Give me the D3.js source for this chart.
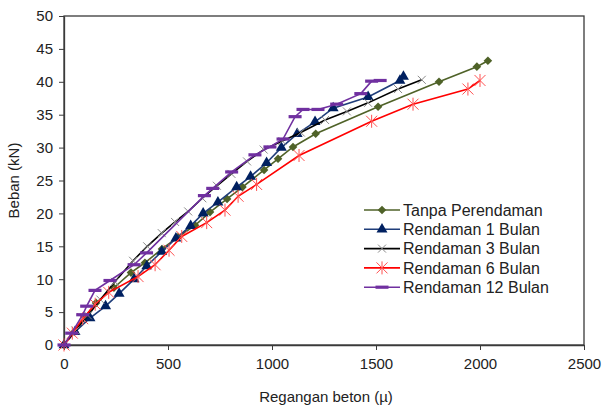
<!DOCTYPE html>
<html>
<head>
<meta charset="utf-8">
<script src="https://cdn.jsdelivr.net/npm/d3@7"></script>
<style>
  body { margin: 0; background: #fff; }
  text { font-family: "Liberation Sans", Arial, sans-serif; fill: #222; }
</style>
</head>
<body>
<div class="chart"></div>
<script>
// Data (strain in micro, load in kN).
const seriesNames = ["Tanpa Perendaman", "Rendaman 1 Bulan", "Rendaman 3 Bulan", "Rendaman 6 Bulan", "Rendaman 12 Bulan"];

const tanpaX = [0, 50, 100, 154, 240, 322, 389, 471, 548, 630, 702, 784, 858, 962, 1029, 1101, 1210, 1510, 1803, 1985, 2038];
const tanpaY = [0, 2.0, 4.2, 6.4, 8.7, 11.0, 12.5, 14.6, 16.4, 18.2, 20.2, 22.2, 24.0, 26.6, 28.3, 30.1, 32.1, 36.2, 40.0, 42.3, 43.2];

const bulan1X = [0, 53, 125, 200, 265, 337, 398, 470, 538, 609, 669, 740, 830, 897, 974, 1045, 1121, 1207, 1294, 1462, 1615, 1632];
const bulan1Y = [0, 2.0, 4.1, 5.9, 7.8, 10.0, 12.0, 14.2, 16.2, 18.1, 20.0, 21.7, 24.0, 25.6, 27.7, 30.0, 32.1, 33.9, 36.0, 37.7, 40.2, 40.8];

const bulan3X = [0, 55, 115, 175, 245, 332, 400, 470, 534, 597, 665, 735, 805, 880, 960, 1050, 1138, 1255, 1360, 1462, 1606, 1720];
const bulan3Y = [0, 2.2, 4.5, 6.9, 9.6, 12.8, 15.0, 17.0, 18.7, 20.3, 22.3, 24.2, 26.0, 27.9, 29.7, 31.0, 32.3, 34.2, 35.5, 36.8, 38.9, 40.3];

const bulan6X = [0, 40, 90, 150, 215, 356, 438, 505, 566, 686, 774, 837, 926, 1130, 1479, 1678, 1942, 2000];
const bulan6Y = [0, 1.8, 4.0, 6.2, 8.0, 10.4, 12.2, 14.4, 16.5, 18.6, 20.5, 22.6, 24.4, 28.8, 34.0, 36.6, 38.9, 40.2];

const bulan12X = [0, 37, 90, 109, 149, 221, 337, 397, 675, 715, 806, 918, 990, 1053, 1111, 1149, 1221, 1311, 1427, 1479, 1520];
const bulan12Y = [0, 1.8, 4.6, 5.9, 8.3, 9.8, 12.2, 14.0, 22.7, 23.8, 26.3, 28.9, 30.1, 31.3, 34.7, 35.8, 35.8, 36.6, 38.2, 40.1, 40.2];

const xTicks = [0, 500, 1000, 1500, 2000, 2500];
const yTicks = [0, 5, 10, 15, 20, 25, 30, 35, 40, 45, 50];

// Build series.
const zip = (xs, ys) => xs.map((x, i) => ({ x: x, y: ys[i] }));
const series = [
  { name: seriesNames[0], line: "#4f6228", mark: "#4f6228", shape: "diamond", values: zip(tanpaX, tanpaY) },
  { name: seriesNames[1], line: "#1f3d7a", mark: "#002060", shape: "triangle", values: zip(bulan1X, bulan1Y) },
  { name: seriesNames[2], line: "#000000", mark: "#8a8a8a", shape: "cross", values: zip(bulan3X, bulan3Y) },
  { name: seriesNames[3], line: "#ff0000", mark: "#ff5050", shape: "star", values: zip(bulan6X, bulan6Y) },
  { name: seriesNames[4], line: "#7030a0", mark: "#7030a0", shape: "dash", values: zip(bulan12X, bulan12Y) },
];

// Margin convention.
const margin = { top: 16, right: 23, bottom: 65, left: 64 };
const width = 607 - margin.left - margin.right;
const height = 410 - margin.top - margin.bottom;

const svgRoot = d3.select(".chart").append("svg")
  .attr("width", 607)
  .attr("height", 410);
const svg = svgRoot.append("g")
  .attr("transform", `translate(${margin.left}, ${margin.top})`);

// Scales.
const xScale = d3.scaleLinear().domain([0, 2500]).range([0, width]);
const yScale = d3.scaleLinear().domain([0, 50]).range([height, 0]);

// Box.
svg.append("rect")
  .attr("width", width).attr("height", height)
  .attr("fill", "none").attr("stroke", "#3a3a3a").attr("stroke-width", 1.3);

// Axes.
const xAxisDraw = svg.append("g")
  .attr("class", "x axis")
  .attr("transform", `translate(0, ${height})`)
  .call(d3.axisBottom(xScale).tickValues(xTicks).tickFormat(d3.format("d"))
    .tickSize(5).tickSizeOuter(0).tickPadding(8));

const yAxisDraw = svg.append("g")
  .attr("class", "y axis")
  .call(d3.axisLeft(yScale).tickValues(yTicks).tickFormat(d3.format("d"))
    .tickSize(5).tickSizeOuter(0).tickPadding(6));

[xAxisDraw, yAxisDraw].forEach((ax) => {
  ax.select(".domain").attr("stroke", "#3a3a3a").attr("stroke-width", 1.3);
  ax.selectAll("line").attr("stroke", "#3a3a3a");
  ax.selectAll("text").style("font-size", "15px").style("fill", "#222")
    .style("font-family", '"Liberation Sans", Arial, sans-serif');
});

// Axis titles.
svg.append("text")
  .attr("x", width / 2 + 2).attr("y", height + 57)
  .attr("text-anchor", "middle").style("font-size", "15px")
  .text("Regangan beton (\u00b5)");

svg.append("text")
  .attr("transform", `translate(${-45}, ${height / 2}) rotate(-90)`)
  .attr("text-anchor", "middle").style("font-size", "15px")
  .text("Beban (kN)");

// Marker drawing.
function drawMarker(g, shape, color, cx, cy) {
  if (shape === "diamond") {
    const s = 4.3;
    g.append("path").attr("d", `M${cx},${cy - s}L${cx + s},${cy}L${cx},${cy + s}L${cx - s},${cy}Z`)
      .attr("fill", color);
  } else if (shape === "triangle") {
    g.append("path").attr("d", d3.symbol(d3.symbolTriangle, 52)())
      .attr("transform", `translate(${cx},${cy})`).attr("fill", color);
  } else if (shape === "cross") {
    const s = 4;
    g.append("path").attr("d", `M${cx - s},${cy - s}L${cx + s},${cy + s}M${cx - s},${cy + s}L${cx + s},${cy - s}`)
      .attr("stroke", color).attr("stroke-width", 1).attr("fill", "none");
  } else if (shape === "star") {
    const s = 5.5;
    g.append("path").attr("d", `M${cx - s},${cy - s}L${cx + s},${cy + s}M${cx - s},${cy + s}L${cx + s},${cy - s}M${cx},${cy - s - 1}L${cx},${cy + s + 1}`)
      .attr("stroke", color).attr("stroke-width", 1).attr("fill", "none");
  } else if (shape === "dash") {
    g.append("rect").attr("x", cx - 6.5).attr("y", cy - 1.6)
      .attr("width", 13).attr("height", 3.2).attr("fill", color);
  }
}

// Line generator.
const lineGen = d3.line().x((d) => xScale(d.x)).y((d) => yScale(d.y));

const chartGroup = svg.append("g").attr("class", "line-chart");
series.forEach((s) => {
  const g = chartGroup.append("g").attr("class", "series");
  g.append("path")
    .attr("d", lineGen(s.values))
    .style("fill", "none")
    .style("stroke", s.line)
    .style("stroke-width", 1.6);
  s.values.forEach((d) => drawMarker(g, s.shape, s.mark, xScale(d.x), yScale(d.y)));
});

// Legend.
const legend = svgRoot.append("g").attr("class", "legend")
  .attr("transform", "translate(364, 210)");
series.forEach((s, i) => {
  const row = legend.append("g").attr("transform", `translate(0, ${i * 19.3})`);
  row.append("line").attr("x1", 0).attr("x2", 36).attr("y1", 0).attr("y2", 0)
    .attr("stroke", s.line).attr("stroke-width", 1.6);
  drawMarker(row, s.shape, s.mark, 18, 0);
  row.append("text").attr("x", 39).attr("y", 0).attr("dy", "0.35em")
    .style("font-size", "16px").text(s.name);
});
</script>
</body>
</html>
